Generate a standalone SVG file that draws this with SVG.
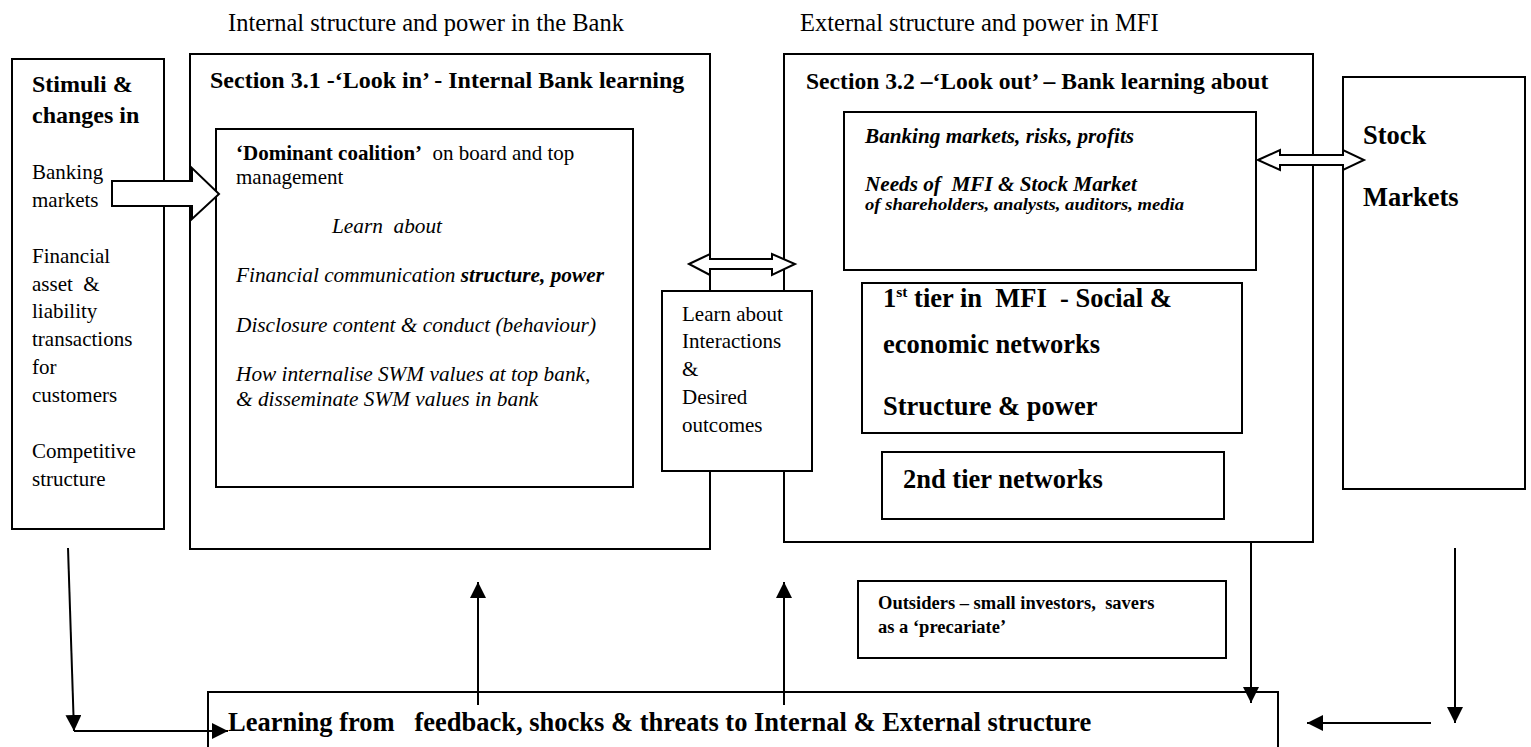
<svg xmlns="http://www.w3.org/2000/svg" width="1531" height="747" viewBox="0 0 1531 747">
<style>
text{font-family:"Liberation Serif","Times New Roman",serif;fill:#000}
.box{fill:#fff;stroke:#000;stroke-width:2}
.line{fill:none;stroke:#000;stroke-width:2}
.blk{fill:#fff;stroke:#000;stroke-width:2;stroke-linejoin:miter}
.r21{font-size:21px}
.b24{font-size:24px;font-weight:bold}
.i21{font-size:21.3px;font-style:italic}
.bi21{font-size:21.2px;font-style:italic;font-weight:bold}
.b26{font-size:26.5px;font-weight:bold}
.lab{font-size:24.5px}
</style>
<defs>
<marker id="ah" markerUnits="userSpaceOnUse" markerWidth="16" markerHeight="16" refX="16" refY="8" orient="auto">
<path d="M0,0 L16,8 L0,16 z" fill="#000"/>
</marker>
</defs>
<rect width="1531" height="747" fill="#fff"/>

<g id="labels">
<text class="lab" x="228" y="31">Internal structure and power in the Bank</text>
<text class="lab" x="800" y="31">External structure and power in MFI</text>
</g>

<g id="stimuli">
<rect class="box" x="12" y="59" width="152" height="470"/>
<text class="b24" x="32" y="92">Stimuli &amp;</text>
<text class="b24" x="32" y="123">changes in</text>
<text class="r21" x="32" y="179">Banking</text>
<text class="r21" x="32" y="207">markets</text>
<text class="r21" x="32" y="263">Financial</text>
<text class="r21" x="32" y="291" xml:space="preserve">asset  &amp;</text>
<text class="r21" x="32" y="318">liability</text>
<text class="r21" x="32" y="346">transactions</text>
<text class="r21" x="32" y="374">for</text>
<text class="r21" x="32" y="402">customers</text>
<text class="r21" x="32" y="458">Competitive</text>
<text class="r21" x="32" y="486">structure</text>
</g>

<g id="section31">
<rect class="box" x="190" y="54" width="520" height="495"/>
<text class="b24" x="210" y="88">Section 3.1 -‘Look in’ - Internal Bank learning</text>
</g>

<g id="coalition">
<rect class="box" x="216" y="129" width="417" height="358"/>
<text class="r21" x="236" y="160" xml:space="preserve"><tspan font-weight="bold">‘Dominant coalition’</tspan>  on board and top</text>
<text class="r21" x="236" y="184">management</text>
<text class="i21" x="332" y="233" xml:space="preserve">Learn  about</text>
<text class="i21" x="236" y="282">Financial communication <tspan font-weight="bold">structure, power</tspan></text>
<text class="i21" x="236" y="332">Disclosure content &amp; conduct (behaviour)</text>
<text class="i21" x="236" y="381">How internalise SWM values at top bank,</text>
<text class="i21" x="236" y="406">&amp; disseminate SWM values in bank</text>
</g>

<g id="section32">
<rect class="box" x="784" y="54" width="529" height="488"/>
<text class="b24" x="806" y="89" style="font-size:23.6px">Section 3.2 –‘Look out’ – Bank learning about</text>
</g>

<g id="markets-box">
<rect class="box" x="844" y="112" width="412" height="158"/>
<text class="bi21" x="865" y="143">Banking markets, risks, profits</text>
<text class="bi21" x="865" y="191" xml:space="preserve">Needs of  MFI &amp; Stock Market</text>
<text x="865" y="210" textLength="319" lengthAdjust="spacingAndGlyphs" style="font-size:16.5px;font-style:italic;font-weight:bold">of shareholders, analysts, auditors, media</text>
</g>

<g id="tier1">
<rect class="box" x="862" y="283" width="380" height="150"/>
<text class="b26" x="883" y="307" xml:space="preserve">1<tspan style="font-size:15.5px" dy="-10">st</tspan><tspan dy="10"> tier in  MFI  - Social &amp;</tspan></text>
<text class="b26" x="883" y="353">economic networks</text>
<text class="b26" x="883" y="415">Structure &amp; power</text>
</g>

<g id="tier2">
<rect class="box" x="882" y="452" width="342" height="67"/>
<text class="b26" x="903" y="488">2nd tier networks</text>
</g>

<g id="stock">
<rect class="box" x="1343" y="77" width="182" height="412"/>
<text class="b26" x="1363" y="144">Stock</text>
<text class="b26" x="1363" y="206">Markets</text>
</g>

<g id="learn">
<rect class="box" x="662" y="291" width="150" height="180"/>
<text class="r21" x="682" y="321">Learn about</text>
<text class="r21" x="682" y="348">Interactions</text>
<text class="r21" x="682" y="376">&amp;</text>
<text class="r21" x="682" y="404">Desired</text>
<text class="r21" x="682" y="432">outcomes</text>
</g>

<g id="outsiders">
<rect class="box" x="858" y="581" width="368" height="77"/>
<text x="878" y="609" style="font-size:18.5px;font-weight:bold" xml:space="preserve">Outsiders – small investors,  savers</text>
<text x="878" y="633" style="font-size:18.5px;font-weight:bold">as a ‘precariate’</text>
</g>

<g id="feedback">
<rect class="box" x="208" y="692" width="1070" height="70"/>
<text class="b26" x="228" y="731" xml:space="preserve">Learning from   feedback, shocks &amp; threats to Internal &amp; External structure</text>
</g>

<g id="connectors">
<polygon class="blk" points="112,181 192,181 192,168 219,194 192,219 192,206 112,206"/>
<polygon class="blk" points="689,264 710,254 710,259 772,259 772,254 795,264 772,275 772,269 710,269 710,275"/>
<polygon class="blk" points="1258,160 1280,150 1280,155 1343,155 1343,150 1364,160 1343,170 1343,165 1280,165 1280,170"/>
<line class="line" x1="68" y1="548" x2="74" y2="731" marker-end="url(#ah)"/>
<line class="line" x1="74" y1="731" x2="228" y2="731" marker-end="url(#ah)"/>
<line class="line" x1="478" y1="705" x2="478" y2="582" marker-end="url(#ah)"/>
<line class="line" x1="784" y1="705" x2="784" y2="582" marker-end="url(#ah)"/>
<line class="line" x1="1251" y1="542" x2="1251" y2="703" marker-end="url(#ah)"/>
<line class="line" x1="1455" y1="548" x2="1455" y2="723" marker-end="url(#ah)"/>
<line class="line" x1="1431" y1="723" x2="1307" y2="723" marker-end="url(#ah)"/>
</g>
</svg>
